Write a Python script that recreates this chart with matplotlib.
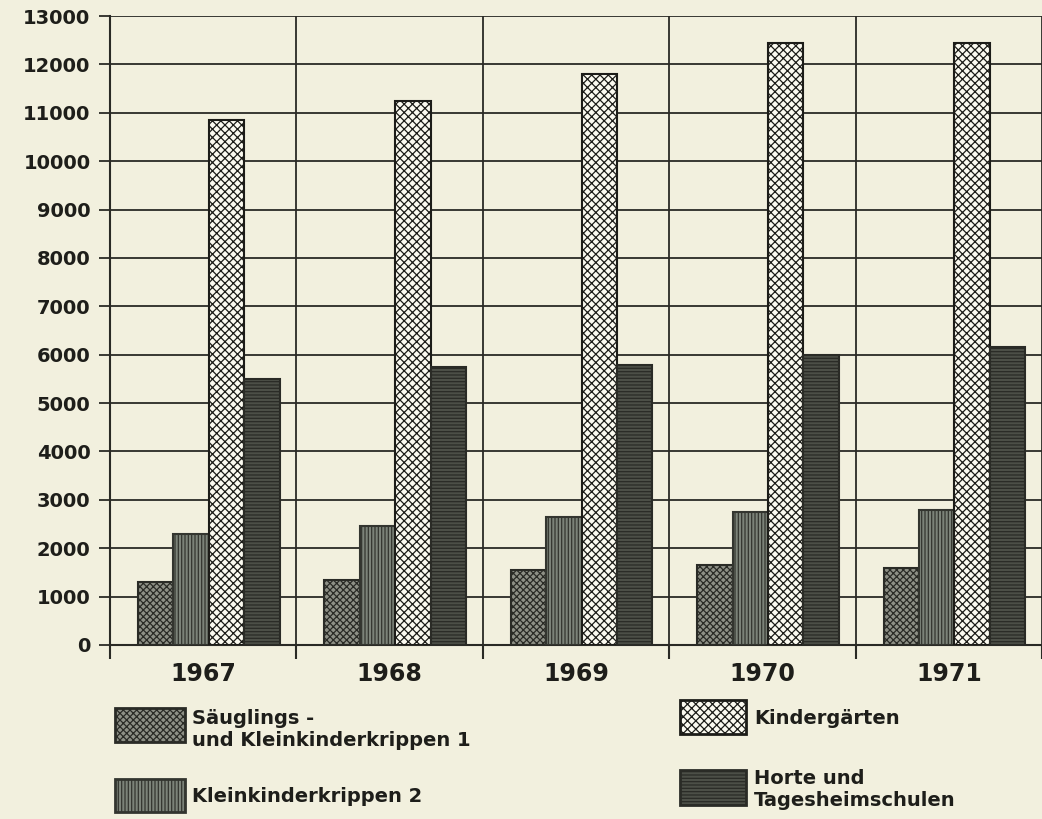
import matplotlib
matplotlib.use("Agg")
import matplotlib.pyplot as plt
import numpy as np
from matplotlib.patches import Rectangle

years = ["1967", "1968", "1969", "1970", "1971"]
saeuglinge = [1300, 1350, 1550, 1650, 1600]
kleinkinder = [2300, 2450, 2650, 2750, 2800]
kindergaerten = [10850, 11250, 11800, 12450, 12450]
horte = [5500, 5750, 5780, 6000, 6150]
yticks = [0, 1000, 2000, 3000, 4000, 5000, 6000, 7000, 8000, 9000, 10000, 11000, 12000, 13000]

labels = ["Säuglings -\nund Kleinkinderkrippen 1", "Kleinkinderkrippen 2",
          "Kindergärten", "Horte und\nTagesheimschulen"]

bg = "#f2f0de"
plt.rcParams['hatch.linewidth'] = 0.9
styles = [
    dict(facecolor="#8e9086", edgecolor="#2a2b26", hatch="xxxxx"),
    dict(facecolor="#7c8379", edgecolor="#33352f", hatch="|||||"),
    dict(facecolor="#fbfaf0", edgecolor="#1c1c18", hatch="xxxx"),
    dict(facecolor="#4c4f47", edgecolor="#2a2b26", hatch="-----"),
]

fig = plt.figure(figsize=(10.42, 8.19), dpi=100, facecolor=bg)
ax = fig.add_axes([110/1042, 174/819, 932/1042, (645-16)/819])
ax.set_facecolor(bg)

x = np.arange(len(years))
w = 0.19
series = [saeuglinge, kleinkinder, kindergaerten, horte]
offsets = [-1.5, -0.5, 0.5, 1.5]
for vals, off, st in zip(series, offsets, styles):
    ax.bar(x + off * w + 0.03, vals, width=w, linewidth=1.5, zorder=3, **st)

ax.set_ylim(0, 13000)
ax.set_xlim(-0.5, 4.47)
ax.set_yticks(yticks)
ax.set_yticklabels([str(v) for v in yticks], fontsize=14, fontweight='bold', color="#1e1e1a")
ax.set_xticks(x)
ax.set_xticklabels(years, fontsize=17, fontweight='bold', color="#1e1e1a")
ax.set_xticks(np.arange(-0.5, 5, 1.0), minor=True)
ax.tick_params(axis='x', which='major', length=0, pad=12)
ax.tick_params(axis='x', which='minor', length=10, width=1.5, color="#2a2a25", direction='out')
ax.tick_params(axis='y', length=8, width=1.3, color="#2a2a25", pad=6)
ax.grid(True, axis='y', color="#2a2a25", linewidth=1.3, zorder=0)
ax.grid(True, axis='x', which='minor', color="#2a2a25", linewidth=1.3, zorder=0)
for s in ['top', 'right']:
    ax.spines[s].set_visible(False)
ax.spines['left'].set_linewidth(1.5)
ax.spines['bottom'].set_linewidth(1.5)
ax.spines['left'].set_color("#2a2a25")
ax.spines['bottom'].set_color("#2a2a25")

# legend
leg_pos = [(115, 708, 70, 34), (115, 779, 70, 33), (680, 700, 66, 34), (680, 770, 66, 35)]
text_pos = [(192, 729), (192, 797), (754, 718), (754, 789)]
for (lx, ly, lw, lh), (tx, ty), st, lab in zip(leg_pos, text_pos, styles, labels):
    r = Rectangle((lx/1042, 1 - (ly+lh)/819), lw/1042, lh/819, transform=fig.transFigure,
                  linewidth=2, **st)
    fig.add_artist(r)
    fig.text(tx/1042, 1 - ty/819, lab, fontsize=14, fontweight='bold', va='center', ha='left',
             color="#1e1e1a", linespacing=1.2)

fig.savefig("out.png", dpi=100, facecolor=bg)
